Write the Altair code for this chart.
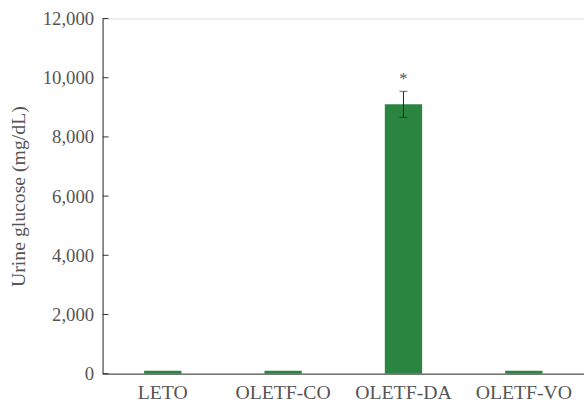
import altair as alt
import pandas as pd

# Urine glucose by group (mean, SEM)
groups = ["LETO", "OLETF-CO", "OLETF-DA", "OLETF-VO"]
glucose = [100, 100, 9100, 100]
sem = [0, 0, 440, 0]
marks = ["", "", "*", ""]
y_ticks = [0, 2000, 4000, 6000, 8000, 10000, 12000]

df = pd.DataFrame({"group": groups, "glucose": glucose, "sem": sem, "mark": marks})
df["lo"] = df["glucose"] - df["sem"]
df["hi"] = df["glucose"] + df["sem"]
ticks_df = pd.DataFrame({"v": y_ticks})

FONT = "Liberation Serif"
TEXT = "#555555"
AXIS = "#333333"
GREEN = "#2a8540"

x_axis = alt.Axis(title=None, labelAngle=0, ticks=False, labelPadding=9,
                  labelFontSize=20, labelFont=FONT, labelColor=TEXT,
                  domainColor=AXIS, domainWidth=1)
x_scale = alt.Scale(paddingInner=0.69, paddingOuter=0.345)
y_axis = alt.Axis(title="Urine glucose (mg/dL)", values=y_ticks,
                  labelExpr="format(datum.value, ',')",
                  ticks=False, grid=False, labelPadding=9,
                  labelFontSize=19, labelFont=FONT, labelColor=TEXT,
                  titleFontSize=20, titleFont=FONT, titleColor=TEXT,
                  titleFontWeight="normal", titlePadding=14,
                  domainColor=AXIS, domainWidth=1)
y_scale = alt.Scale(domain=[0, 12000], nice=False)


def xg():
    return alt.X("group:N", sort=groups, scale=x_scale, axis=x_axis)


bars = alt.Chart(df).mark_bar(color=GREEN).encode(
    x=xg(),
    y=alt.Y("glucose:Q", scale=y_scale, axis=y_axis),
)

# inward-facing y ticks
yticks = alt.Chart(ticks_df).mark_rule(color=AXIS, strokeWidth=1).encode(
    y=alt.Y("v:Q", scale=y_scale, axis=y_axis),
    x=alt.value(0),
    x2=alt.value(6),
)

err_df = df[df["sem"] > 0]
err = alt.Chart(err_df).mark_errorbar(ticks=alt.MarkConfig(size=8), color="#222222").encode(
    x=xg(),
    y=alt.Y("lo:Q", scale=y_scale, axis=y_axis),
    y2="hi:Q",
)

stars = alt.Chart(df).mark_text(font=FONT, fontSize=17, color=TEXT, dy=-12).encode(
    x=xg(),
    y=alt.Y("hi:Q", scale=y_scale, axis=y_axis),
    text="mark:N",
)

chart = alt.layer(bars, yticks, err, stars).properties(
    width=488,
    height=360,
    padding={"left": 104, "top": 16, "right": 0, "bottom": 30},
    autosize=alt.AutoSizeParams(type="none"),
).configure_view(stroke=None).configure(background="white")

chart.save("out.html", embed_options={"renderer": "svg", "actions": False})
